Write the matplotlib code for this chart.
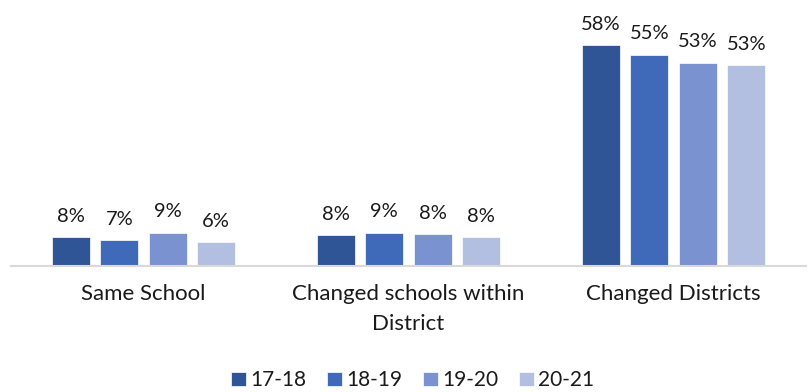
import numpy as np
import matplotlib.pyplot as plt

categories = ['Same School', 'Changed schools within\nDistrict', 'Changed Districts']
years = ['17-18', '18-19', '19-20', '20-21']
# share of students per year, in percent
v1718 = [7.6, 8.1, 58.0]
v1819 = [6.8, 8.7, 55.4]
v1920 = [8.7, 8.4, 53.4]
v2021 = [6.3, 7.6, 52.7]
colors = ['#2F5597', '#3E6AB9', '#7A93D0', '#B3BFE0']

plt.rcParams['font.family'] = ['Lato', 'DejaVu Sans']

fig = plt.figure(figsize=(8.08, 3.92), dpi=100, facecolor='w')
ax = fig.add_axes([0.0136, 0.3214, 0.984, 0.653])

x = np.arange(len(categories))
width = 0.143
pitch = 0.183
series = [v1718, v1819, v1920, v2021]
for i, (vals, name, c) in enumerate(zip(series, years, colors)):
    pos = x + (i - 1.5) * pitch
    bars = ax.bar(pos, vals, width, color=c, label=name, edgecolor='white', linewidth=0.5)
    for b, v in zip(bars, vals):
        ax.annotate(f'{v:.0f}%', (b.get_x() + b.get_width() / 2, v),
                    xytext=(0, 9), textcoords='offset points',
                    ha='center', va='bottom', fontsize=14.5, color='#1a1a1a')

ax.set_xlim(-0.5, 2.5)
ax.set_ylim(0, 67.2)
ax.set_yticks([])
ax.set_xticks(x)
ax.set_xticklabels(categories, fontsize=16, color='#1a1a1a', linespacing=1.6)
ax.tick_params(axis='x', length=0, pad=13)
for s in ('top', 'right', 'left'):
    ax.spines[s].set_visible(False)
ax.spines['bottom'].set_color('#D9D9D9')
ax.spines['bottom'].set_linewidth(1.5)

leg = fig.legend(loc='center', bbox_to_anchor=(0.511, 0.03), ncol=4, frameon=False,
                 fontsize=15, handlelength=0.72, handleheight=0.72,
                 handletextpad=0.2, columnspacing=1.0)
for t in leg.get_texts():
    t.set_color('#1a1a1a')

fig.savefig('out.png', dpi=100)
